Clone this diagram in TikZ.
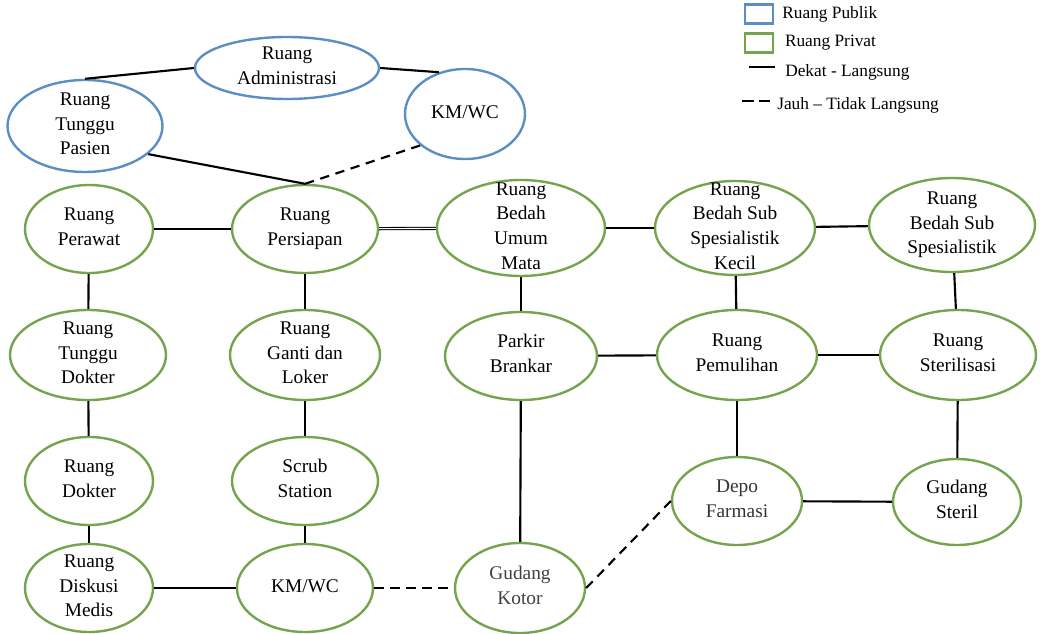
\documentclass[tikz,border=0pt]{standalone}
\usepackage{fontspec}
\setmainfont{Liberation Serif}
\usepackage{tikz}
\usetikzlibrary{shapes.geometric,positioning}
\definecolor{publicblue}{RGB}{91,143,196}
\definecolor{privategreen}{RGB}{118,163,78}
\newcommand\roomfont{\fontsize{14.5}{18.5}\selectfont}
\newcommand\keyfont{\fontsize{13}{16}\selectfont}
\newcommand\roomlabel[1]{\smash{\raisebox{-3pt}{\begin{tabular}{@{}c@{}}#1\end{tabular}}}}

\begin{document}
\begin{tikzpicture}
          [x=0.75pt,y=-0.75pt,
          room/.style={ellipse,line width=1.8pt,inner sep=0pt,font=\roomfont},
          rsize/.style 2 args={minimum width=#1*0.75pt,minimum height=#2*0.75pt},
          publicroom/.style={room,draw=publicblue},
          privateroom/.style={room,draw=privategreen},
          near/.style={line width=1.6pt},
          far/.style={line width=1.6pt,dash pattern=on 7pt off 5pt},
          keybox/.style={rectangle,line width=1.6pt,inner sep=0pt,rsize={28}{19}},
          keytext/.style={anchor=west,inner sep=0pt,font=\keyfont}
          ]
          \useasboundingbox (0,0) rectangle (1041,634);

          % public rooms
          \node[publicroom,rsize={184}{62}] (admin) at (287,68) {\roomlabel{Ruang\\Administrasi}};
          \node[publicroom,rsize={155}{92}] (pasien) at (85,126) {\roomlabel{Ruang\\Tunggu\\Pasien}};
          \node[publicroom,rsize={120}{90}] (kmwcpub) at (465,114) {\roomlabel{KM/WC}};

          % private rooms
          \node[privateroom,rsize={128}{88}] (perawat) at (89,229) {\roomlabel{Ruang\\Perawat}};
          \node[privateroom,rsize={146}{88}] (persiapan) at (305,229) {\roomlabel{Ruang\\Persiapan}};
          \node[privateroom,rsize={168}{96}] (umummata) at (521,228) {\roomlabel{Ruang\\Bedah\\Umum\\Mata}};
          \node[privateroom,rsize={160}{94}] (subkecil) at (735,228) {\roomlabel{Ruang\\Bedah Sub\\Spesialistik\\Kecil}};
          \node[privateroom,rsize={166}{94}] (subspes) at (952,225) {\roomlabel{Ruang\\Bedah Sub\\Spesialistik}};

          \node[privateroom,rsize={156}{90}] (tunggudokter) at (88,355) {\roomlabel{Ruang\\Tunggu\\Dokter}};
          \node[privateroom,rsize={150}{90}] (gantiloker) at (305,355) {\roomlabel{Ruang\\Ganti dan\\Loker}};
          \node[privateroom,rsize={152}{88}] (parkir) at (521,356) {\roomlabel{Parkir\\Brankar}};
          \node[privateroom,rsize={160}{90}] (pemulihan) at (737,355) {\roomlabel{Ruang\\Pemulihan}};
          \node[privateroom,rsize={156}{90}] (sterilisasi) at (958,355) {\roomlabel{Ruang\\Sterilisasi}};

          \node[privateroom,rsize={128}{88}] (dokter) at (89,481) {\roomlabel{Ruang\\Dokter}};
          \node[privateroom,rsize={146}{88}] (scrub) at (305,481) {\roomlabel{Scrub\\Station}};
          \node[privateroom,rsize={130}{88},text=black!80] (depo) at (737,501) {\roomlabel{Depo\\Farmasi}};
          \node[privateroom,rsize={128}{86}] (gudangsteril) at (957,502) {\roomlabel{Gudang\\Steril}};

          \node[privateroom,rsize={128}{88}] (diskusi) at (89,588) {\roomlabel{Ruang\\Diskusi\\Medis}};
          \node[privateroom,rsize={136}{88}] (kmwc) at (305,588) {\roomlabel{KM/WC}};
          \node[privateroom,rsize={130}{90},text=black!75] (kotor) at (520,588) {\roomlabel{Gudang\\Kotor}};

          % near / direct
          \draw[near] (pasien.north) -- (admin.west);
          \draw[near] (admin.east) -- (kmwcpub.122);
          \draw[near] (pasien.-24) -- (persiapan.north);
          \draw[near] (perawat) -- (persiapan);
          \draw[near,double,line width=0.8pt,double distance=0.8pt] (persiapan) -- (umummata);
          \draw[near] (umummata) -- (subkecil);
          \draw[near] (subkecil) -- (subspes);
          \draw[near] (perawat) -- (tunggudokter);
          \draw[near] (tunggudokter) -- (dokter);
          \draw[near] (dokter) -- (diskusi);
          \draw[near] (persiapan) -- (gantiloker);
          \draw[near] (gantiloker) -- (scrub);
          \draw[near] (scrub) -- (kmwc);
          \draw[near] (diskusi) -- (kmwc);
          \draw[near] (umummata) -- (parkir);
          \draw[near] (parkir) -- (kotor);
          \draw[near] (parkir) -- (pemulihan);
          \draw[near] (pemulihan) -- (sterilisasi);
          \draw[near] (subkecil) -- (pemulihan);
          \draw[near] (subspes) -- (sterilisasi);
          \draw[near] (pemulihan) -- (depo);
          \draw[near] (sterilisasi) -- (gudangsteril);
          \draw[near] (depo) -- (gudangsteril);

          % far / indirect
          \draw[far] (kmwcpub.215) -- (persiapan.north);
          \draw[far] (kmwc) -- (kotor);
          \draw[far] (kotor.east) -- (depo.west);

          % legend
          \node[keybox,draw=publicblue] (keypublic) at (759,14) {};
          \node[keytext,right=6pt of keypublic] (keypublictext) {Ruang Publik};
          \node[keybox,draw=privategreen] (keyprivate) at (759,43) {};
          \node[keytext,right=8pt of keyprivate] (keyprivatetext) {Ruang Privat};
          \coordinate (keynearA) at (749,67);
          \coordinate (keynearB) at (775,67);
          \draw[near] (keynearA) -- (keynearB);
          \node[keytext] (keyneartext) at (785,72) {Dekat - Langsung};
          \coordinate (keyfarA) at (742,101);
          \coordinate (keyfarB) at (770,101);
          \draw[far,dash pattern=on 9pt off 4pt] (keyfarA) -- (keyfarB);
          \node[keytext] (keyfartext) at (777,105) {Jauh -- Tidak Langsung};
        \end{tikzpicture}
\end{document}
